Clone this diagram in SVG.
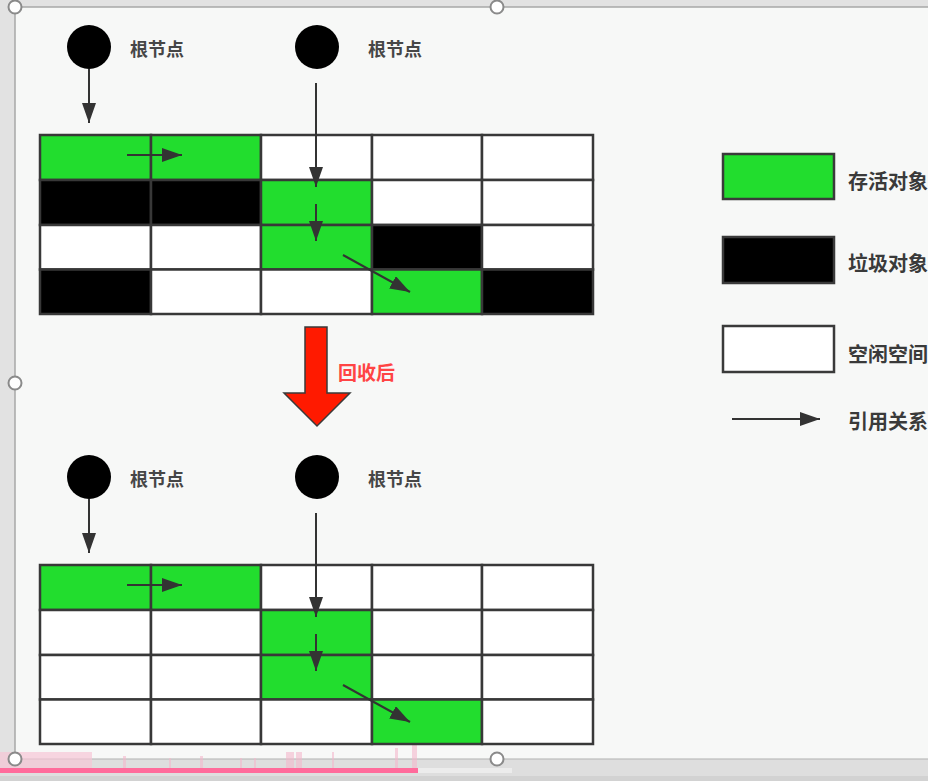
<svg xmlns="http://www.w3.org/2000/svg" width="928" height="781" viewBox="0 0 928 781">
<defs>
<style>
.cell{stroke:#383838;stroke-width:2.5}
.g{fill:#22dd2e}
.b{fill:#000}
.w{fill:#fff}
.lbl{font-family:"Noto Sans CJK SC","Noto Sans",sans-serif;font-weight:bold;font-size:18px;fill:#464646}
.leg{font-family:"Noto Sans CJK SC","Noto Sans",sans-serif;font-weight:bold;font-size:20px;fill:#3a3a3a}
.conn{stroke:#333;stroke-width:2;fill:none;marker-end:url(#ah)}
.root{fill:#000}
.handle{fill:#fff;stroke:#8a8a8a;stroke-width:2}
.tick{fill:#f4b8cc;opacity:0.6}
</style>
<marker id="ah" viewBox="0 0 20 14" refX="20" refY="7" markerWidth="20" markerHeight="14" markerUnits="userSpaceOnUse" orient="auto">
<path d="M0,0 L20,7 L0,14 z" fill="#333"/>
</marker>
</defs>
<!-- background -->
<rect x="0" y="0" width="928" height="781" fill="#e2e2e2"/>
<rect x="15" y="7" width="913" height="752" fill="#f7f8f7"/>
<path d="M15,759 L15,7 L928,7" fill="none" stroke="#a8a8a8" stroke-width="1.5"/>
<line x1="15" y1="759" x2="928" y2="759" stroke="#b0b0b0" stroke-width="1.2"/>
<!-- bottom strip -->
<rect x="0" y="760" width="928" height="21" fill="#dedede"/>
<rect x="0" y="752" width="92" height="16" fill="#f6c6d6" opacity="0.7"/>
<rect class="tick" x="123" y="756" width="3" height="12"/>
<rect class="tick" x="169" y="758" width="2" height="10"/>
<rect class="tick" x="200" y="756" width="3" height="12"/>
<rect class="tick" x="240" y="758" width="2" height="10"/>
<rect class="tick" x="254" y="758" width="2" height="10"/>
<rect class="tick" x="286" y="752" width="8" height="16"/>
<rect class="tick" x="296" y="752" width="6" height="16"/>
<rect class="tick" x="332" y="752" width="2" height="16"/>
<rect class="tick" x="395" y="748" width="3" height="20"/>
<rect class="tick" x="412" y="745" width="5" height="23"/>
<rect x="0" y="768" width="418" height="5" fill="#ff6b9b"/>
<rect x="418" y="768" width="94" height="5" fill="#ececec"/>
<rect x="0" y="776" width="928" height="5" fill="#d2d2d2"/>
<!-- selection handles -->
<circle class="handle" cx="15" cy="7" r="6.5"/>
<circle class="handle" cx="497" cy="7" r="6.5"/>
<circle class="handle" cx="15" cy="383" r="6.5"/>
<circle class="handle" cx="15" cy="759" r="6.5"/>
<circle class="handle" cx="497" cy="759" r="6.5"/>

<!-- top grid (before GC) -->
<g id="grid-before">
<rect class="cell g" x="40" y="135" width="111" height="45"/>
<rect class="cell g" x="151" y="135" width="110" height="45"/>
<rect class="cell w" x="261" y="135" width="111" height="45"/>
<rect class="cell w" x="372" y="135" width="110" height="45"/>
<rect class="cell w" x="482" y="135" width="111" height="45"/>
<rect class="cell b" x="40" y="180" width="111" height="45"/>
<rect class="cell b" x="151" y="180" width="110" height="45"/>
<rect class="cell g" x="261" y="180" width="111" height="45"/>
<rect class="cell w" x="372" y="180" width="110" height="45"/>
<rect class="cell w" x="482" y="180" width="111" height="45"/>
<rect class="cell w" x="40" y="225" width="111" height="44.5"/>
<rect class="cell w" x="151" y="225" width="110" height="44.5"/>
<rect class="cell g" x="261" y="225" width="111" height="44.5"/>
<rect class="cell b" x="372" y="225" width="110" height="44.5"/>
<rect class="cell w" x="482" y="225" width="111" height="44.5"/>
<rect class="cell b" x="40" y="269.5" width="111" height="44.5"/>
<rect class="cell w" x="151" y="269.5" width="110" height="44.5"/>
<rect class="cell w" x="261" y="269.5" width="111" height="44.5"/>
<rect class="cell g" x="372" y="269.5" width="110" height="44.5"/>
<rect class="cell b" x="482" y="269.5" width="111" height="44.5"/>
</g>

<!-- bottom grid (after GC) -->
<g id="grid-after">
<rect class="cell g" x="40" y="565" width="111" height="45"/>
<rect class="cell g" x="151" y="565" width="110" height="45"/>
<rect class="cell w" x="261" y="565" width="111" height="45"/>
<rect class="cell w" x="372" y="565" width="110" height="45"/>
<rect class="cell w" x="482" y="565" width="111" height="45"/>
<rect class="cell w" x="40" y="610" width="111" height="45"/>
<rect class="cell w" x="151" y="610" width="110" height="45"/>
<rect class="cell g" x="261" y="610" width="111" height="45"/>
<rect class="cell w" x="372" y="610" width="110" height="45"/>
<rect class="cell w" x="482" y="610" width="111" height="45"/>
<rect class="cell w" x="40" y="655" width="111" height="44.5"/>
<rect class="cell w" x="151" y="655" width="110" height="44.5"/>
<rect class="cell g" x="261" y="655" width="111" height="44.5"/>
<rect class="cell w" x="372" y="655" width="110" height="44.5"/>
<rect class="cell w" x="482" y="655" width="111" height="44.5"/>
<rect class="cell w" x="40" y="699.5" width="111" height="44.5"/>
<rect class="cell w" x="151" y="699.5" width="110" height="44.5"/>
<rect class="cell w" x="261" y="699.5" width="111" height="44.5"/>
<rect class="cell g" x="372" y="699.5" width="110" height="44.5"/>
<rect class="cell w" x="482" y="699.5" width="111" height="44.5"/>
</g>

<!-- root nodes -->
<g id="root-top-1"><circle class="root" cx="89" cy="47" r="22"/><text class="lbl" x="130" y="56">根节点</text></g>
<g id="root-top-2"><circle class="root" cx="317" cy="47" r="22"/><text class="lbl" x="368" y="56">根节点</text></g>
<g id="root-bottom-1"><circle class="root" cx="89" cy="477" r="22"/><text class="lbl" x="130" y="486">根节点</text></g>
<g id="root-bottom-2"><circle class="root" cx="317" cy="477" r="22"/><text class="lbl" x="368" y="486">根节点</text></g>

<!-- GC arrow -->
<g id="gc-arrow">
<polygon points="305,327 327,327 327,393 350,393 317,426 284,393 305,393" fill="#ff1a00" stroke="#3a3a3a" stroke-width="1.5"/>
<text x="338" y="380" font-family="'Noto Sans CJK SC','Noto Sans',sans-serif" font-weight="bold" font-size="19" fill="#ff4444">回收后</text>
</g>

<!-- legend -->
<g id="legend-live"><rect x="723" y="154" width="111" height="45" fill="#22dd2e" stroke="#3a3a3a" stroke-width="2.5"/><text class="leg" x="848" y="189">存活对象</text></g>
<g id="legend-garbage"><rect x="723" y="237" width="111" height="46" fill="#000" stroke="#3a3a3a" stroke-width="2.5"/><text class="leg" x="848" y="271">垃圾对象</text></g>
<g id="legend-free"><rect x="723" y="326" width="111" height="46" fill="#fff" stroke="#3a3a3a" stroke-width="2.5"/><text class="leg" x="848" y="362">空闲空间</text></g>
<g id="legend-ref"><line class="conn" x1="732" y1="419" x2="820" y2="419"/><text class="leg" x="848" y="429">引用关系</text></g>

<!-- connectors -->
<g id="connectors">
<line class="conn" x1="89" y1="69" x2="89" y2="123"/>
<line class="conn" x1="316" y1="83" x2="316" y2="187"/>
<line class="conn" x1="127" y1="155" x2="182" y2="155"/>
<line class="conn" x1="316" y1="204" x2="316" y2="241"/>
<line class="conn" x1="343" y1="255" x2="410" y2="292"/>
<line class="conn" x1="89" y1="499" x2="89" y2="553"/>
<line class="conn" x1="316" y1="513" x2="316" y2="617"/>
<line class="conn" x1="127" y1="585" x2="182" y2="585"/>
<line class="conn" x1="316" y1="634" x2="316" y2="671"/>
<line class="conn" x1="343" y1="685" x2="410" y2="722"/>
</g>
</svg>
